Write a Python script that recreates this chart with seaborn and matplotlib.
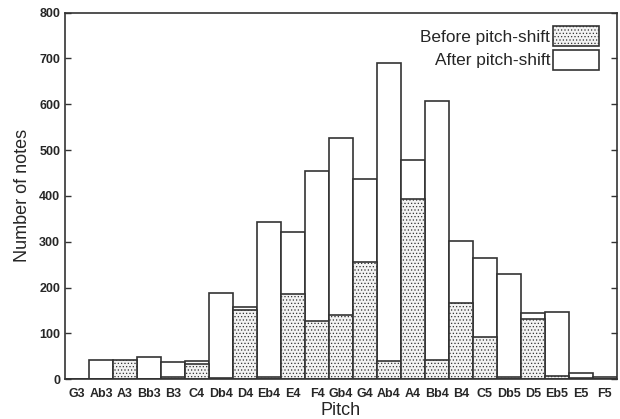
import numpy as np
import pandas as pd
import matplotlib.pyplot as plt
import seaborn as sns
from matplotlib.patches import Patch

pitches = ['G3', 'Ab3', 'A3', 'Bb3', 'B3', 'C4', 'Db4', 'D4', 'Eb4', 'E4', 'F4', 'Gb4',
           'G4', 'Ab4', 'A4', 'Bb4', 'B4', 'C5', 'Db5', 'D5', 'Eb5', 'E5', 'F5']
after_shift = [0, 42, 0, 48, 38, 39, 188, 157, 343, 322, 455, 527,
               437, 691, 478, 606, 302, 264, 230, 145, 146, 13, 4]
before_shift = [0, 0, 42, 0, 5, 34, 2, 152, 4, 186, 128, 141,
                255, 39, 394, 42, 166, 91, 4, 131, 7, 3, 0]

df = pd.DataFrame({'pitch': pitches, 'after': after_shift, 'before': before_shift})

sns.set_style('ticks')
plt.rcParams['font.family'] = ['Liberation Sans', 'DejaVu Sans']
plt.rcParams['hatch.color'] = '#b0b0b0'
plt.rcParams['hatch.linewidth'] = 0.5

fig, ax = plt.subplots(figsize=(6.2, 4.19), dpi=100)
edge = '#333333'

# white "after" bars first, dotted "before" bars drawn over them
sns.barplot(data=df, x='pitch', y='after', color='white', edgecolor=edge,
            linewidth=1.2, width=1.0, saturation=1, ax=ax)
n = len(ax.patches)
sns.barplot(data=df, x='pitch', y='before', color='#f2f2f2', edgecolor=edge,
            linewidth=1.2, width=1.0, saturation=1, ax=ax)
for p in ax.patches[n:]:
    p.set_hatch('.....')

ax.set_xlim(-0.5, len(pitches) - 0.5)
ax.set_ylim(0, 800)
ax.set_yticks(range(0, 801, 100))
ax.tick_params(axis='both', direction='in', labelsize=9, width=1, color=edge)
ax.tick_params(axis='x', length=0, pad=6)
ax.tick_params(axis='y', right=True, length=4)
for lbl in ax.get_xticklabels() + ax.get_yticklabels():
    lbl.set_fontweight('bold')
for s in ax.spines.values():
    s.set_visible(True)
    s.set_linewidth(1.2)
    s.set_color(edge)

ax.set_xlabel('Pitch', fontsize=13, labelpad=2)
ax.set_ylabel('Number of notes', fontsize=13, labelpad=6)

handles = [Patch(facecolor='#f2f2f2', edgecolor=edge, hatch='.....', linewidth=1.2),
           Patch(facecolor='white', edgecolor=edge, linewidth=1.2)]
ax.legend(handles, ['Before pitch-shift', 'After pitch-shift'], loc='upper right',
          frameon=False, markerfirst=False, fontsize=12.4, handlelength=2.7,
          handleheight=1.4, handletextpad=0.15, labelspacing=0.2,
          borderaxespad=0.3, bbox_to_anchor=(0.99, 0.995))

fig.subplots_adjust(left=0.105, right=0.995, top=0.97, bottom=0.095)
plt.savefig('out.png', dpi=100)
